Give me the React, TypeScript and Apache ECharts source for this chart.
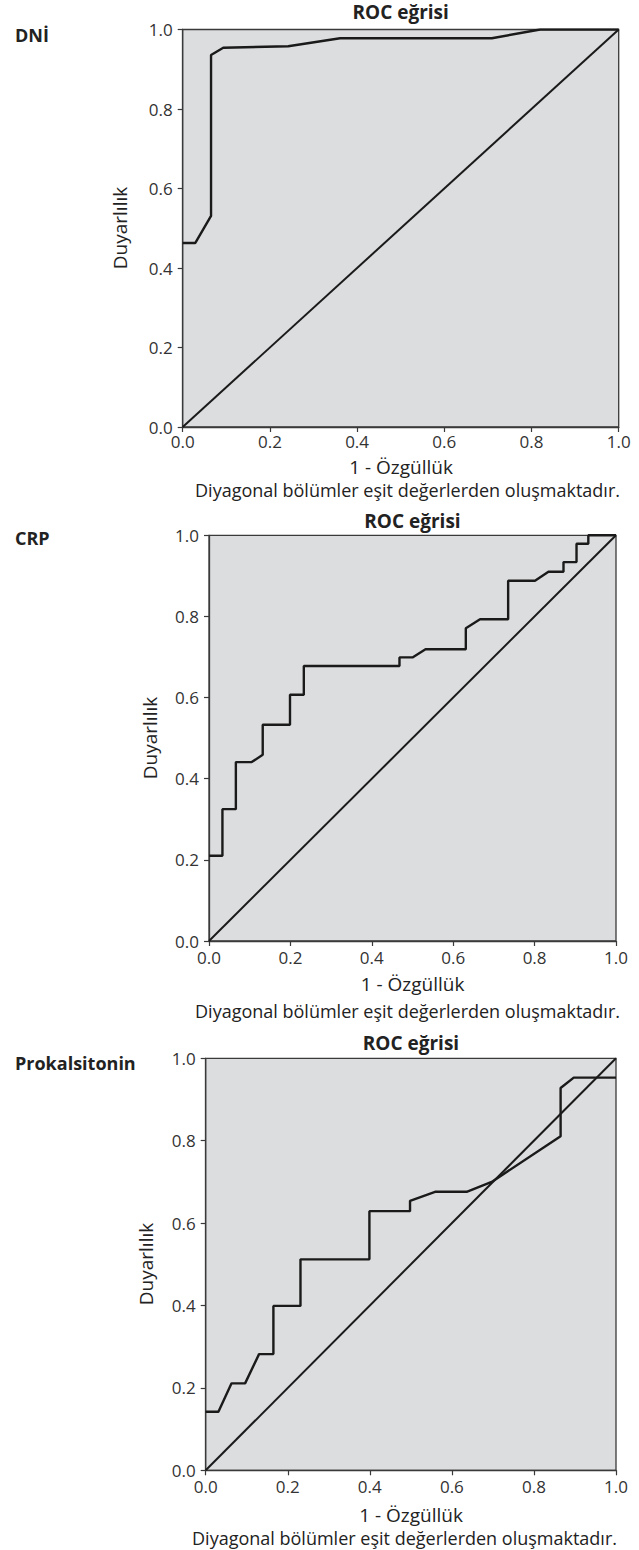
import React, { useEffect, useRef } from "react";
import * as echarts from "echarts";

const panelLabels = ["DNİ", "CRP", "Prokalsitonin"];
const chartTitle = "ROC eğrisi";
const xAxisTitle = "1 - Özgüllük";
const yAxisTitle = "Duyarlılık";
const caption = "Diyagonal bölümler eşit değerlerden oluşmaktadır.";
const diagonal: number[][] = [[0, 0], [1, 1]];

const dniX = [0, 0.029, 0.065, 0.065, 0.093, 0.242, 0.361, 0.709, 0.82, 1.0];
const dniY = [0.463, 0.463, 0.531, 0.936, 0.954, 0.958, 0.978, 0.978, 1.0, 1.0];

const crpX = [0, 0.033, 0.033, 0.066, 0.066, 0.105, 0.132, 0.132, 0.199, 0.199, 0.233, 0.233, 0.468, 0.468, 0.5, 0.532, 0.631, 0.631, 0.666, 0.735, 0.735, 0.801, 0.834, 0.871, 0.871, 0.903, 0.903, 0.932, 0.932, 1.0];
const crpY = [0.21, 0.21, 0.325, 0.325, 0.441, 0.441, 0.459, 0.533, 0.533, 0.607, 0.607, 0.678, 0.678, 0.699, 0.699, 0.719, 0.719, 0.771, 0.793, 0.793, 0.888, 0.888, 0.91, 0.91, 0.934, 0.934, 0.979, 0.979, 1.0, 1.0];

const pctX = [0, 0.031, 0.063, 0.096, 0.13, 0.165, 0.165, 0.231, 0.231, 0.399, 0.399, 0.498, 0.498, 0.559, 0.636, 0.697, 0.865, 0.865, 0.897, 1.0];
const pctY = [0.142, 0.142, 0.211, 0.211, 0.282, 0.282, 0.399, 0.399, 0.512, 0.512, 0.629, 0.629, 0.654, 0.676, 0.676, 0.7, 0.811, 0.928, 0.953, 0.953];

const curves = [
  { x: dniX, y: dniY },
  { x: crpX, y: crpY },
  { x: pctX, y: pctY },
];

// layout (pixels)
const grids = [
  { left: 182.7, top: 29.5, width: 436, height: 397.5 },
  { left: 209, top: 535.3, width: 407, height: 405.7 },
  { left: 205.7, top: 1058.3, width: 410.3, height: 412 },
];
const layout = [
  { label: [15, 35], title: [400.7, 12], yName: [120, 228], xName: [401, 467], cap: [620, 490] },
  { label: [15, 538], title: [412.5, 521], yName: [150, 738], xName: [412.5, 984], cap: [620, 1011] },
  { label: [15, 1063], title: [411, 1043], yName: [146, 1264], xName: [411, 1515], cap: [617, 1538] },
];

const FONT = "'Open Sans', 'Noto Sans', sans-serif";

export default function App() {
  const ref = useRef<HTMLDivElement>(null);
  useEffect(() => {
    if (!ref.current) return;
    const chart = echarts.init(ref.current, undefined, { renderer: "svg" });
    const axisCommon = {
      type: "value" as const,
      min: 0,
      max: 1,
      interval: 0.2,
      splitLine: { show: false },
      axisLine: { show: true, lineStyle: { color: "#3a3a3a", width: 1.3 } },
      axisTick: { show: true, length: 5, lineStyle: { color: "#3a3a3a", width: 1.2 } },
    };
    const labelStyle = (margin: number) => ({
      color: "#333",
      fontSize: 17,
      fontFamily: FONT,
      margin,
      formatter: (v: number) => v.toFixed(1),
    });
    const graphic: any[] = [];
    layout.forEach((l, i) => {
      graphic.push({
        type: "text", x: l.label[0], y: l.label[1],
        style: { text: panelLabels[i], font: `bold 18px ${FONT}`, fill: "#222", textAlign: "left", textVerticalAlign: "middle" },
      });
      graphic.push({
        type: "text", x: l.title[0], y: l.title[1],
        style: { text: chartTitle, font: `bold 19px ${FONT}`, fill: "#222", textAlign: "center", textVerticalAlign: "middle" },
      });
      graphic.push({
        type: "text", x: l.yName[0], y: l.yName[1], rotation: Math.PI / 2,
        style: { text: yAxisTitle, font: `19px ${FONT}`, fill: "#222", textAlign: "center", textVerticalAlign: "middle" },
      });
      graphic.push({
        type: "text", x: l.xName[0], y: l.xName[1],
        style: { text: xAxisTitle, font: `19px ${FONT}`, fill: "#222", textAlign: "center", textVerticalAlign: "middle" },
      });
      graphic.push({
        type: "text", x: l.cap[0], y: l.cap[1],
        style: { text: caption, font: `18px ${FONT}`, fill: "#222", textAlign: "right", textVerticalAlign: "middle" },
      });
    });
    const series: any[] = [];
    curves.forEach((c, i) => {
      series.push({
        type: "line", xAxisIndex: i, yAxisIndex: i, symbol: "none",
        data: diagonal, lineStyle: { color: "#1a1a1a", width: 2 }, silent: true,
      });
      series.push({
        type: "line", xAxisIndex: i, yAxisIndex: i, symbol: "none",
        data: c.x.map((x, k) => [x, c.y[k]]),
        lineStyle: { color: "#1a1a1a", width: 2.4 }, silent: true,
      });
    });
    chart.setOption({
      animation: false,
      grid: grids.map((g) => ({
        ...g, show: true, backgroundColor: "#dcdddf", borderColor: "#3a3a3a", borderWidth: 1.3, containLabel: false,
      })),
      xAxis: grids.map((_, i) => ({ ...axisCommon, gridIndex: i, position: "bottom", axisLabel: labelStyle(i === 0 ? 6 : 8) })),
      yAxis: grids.map((_, i) => ({ ...axisCommon, gridIndex: i, position: "left", axisLabel: labelStyle(10) })),
      series,
      graphic,
    });
    return () => chart.dispose();
  }, []);
  return (
    <div
      ref={ref}
      style={{ position: "absolute", left: 0, top: 0, width: 639, height: 1550, background: "#fff" }}
    />
  );
}
